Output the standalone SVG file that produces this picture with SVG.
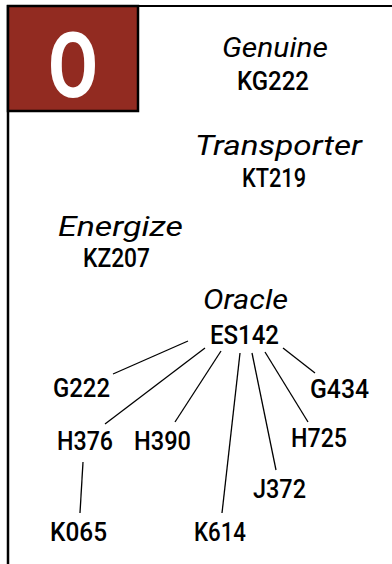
<svg xmlns="http://www.w3.org/2000/svg" width="392" height="564" viewBox="0 0 392 564">
<style>
.lbl{font-family:Roboto,"Liberation Sans",sans-serif;font-style:italic;font-size:28px;fill:#000;text-anchor:middle}
.code{font-family:Roboto,"Liberation Sans",sans-serif;font-weight:500;font-size:25px;fill:#000;text-anchor:middle}
.edge{stroke:#000;stroke-width:1.3;fill:none}
</style>
<rect x="0" y="0" width="392" height="564" fill="#fff"/>
<g id="frame">
<line x1="8" y1="6" x2="392" y2="6" stroke="#000" stroke-width="2"/>
<line x1="8" y1="5" x2="8" y2="564" stroke="#000" stroke-width="2.5"/>
<rect x="8" y="6" width="130" height="105" fill="#922B21" stroke="#000" stroke-width="2.5"/>
<text x="73" y="97" font-family="Roboto,'Liberation Sans',sans-serif" font-weight="700" font-size="90" fill="#fff" text-anchor="middle" textLength="50" lengthAdjust="spacingAndGlyphs">O</text>
</g>
<g id="connectors">
<line class="edge" x1="188" y1="341" x2="113" y2="374"/>
<line class="edge" x1="205" y1="348" x2="105" y2="424"/>
<line class="edge" x1="221" y1="351" x2="175" y2="422"/>
<line class="edge" x1="240" y1="353" x2="222" y2="513"/>
<line class="edge" x1="252" y1="353" x2="276" y2="470"/>
<line class="edge" x1="265" y1="352" x2="308" y2="422"/>
<line class="edge" x1="283" y1="348" x2="315" y2="373"/>
<line class="edge" x1="83" y1="462" x2="80" y2="513"/>
</g>
<g id="genuine">
<text class="lbl" x="275" y="57" textLength="106" lengthAdjust="spacingAndGlyphs">Genuine</text>
<text class="code" x="273" y="90" textLength="72" lengthAdjust="spacingAndGlyphs">KG222</text>
</g>
<g id="transporter">
<text class="lbl" x="278.5" y="155" textLength="167" lengthAdjust="spacingAndGlyphs">Transporter</text>
<text class="code" x="274" y="187" textLength="64" lengthAdjust="spacingAndGlyphs">KT219</text>
</g>
<g id="energize">
<text class="lbl" x="120.5" y="236" textLength="125" lengthAdjust="spacingAndGlyphs">Energize</text>
<text class="code" x="116.5" y="266.5" textLength="67" lengthAdjust="spacingAndGlyphs">KZ207</text>
</g>
<g id="oracle">
<text class="lbl" x="245.5" y="309" textLength="85" lengthAdjust="spacingAndGlyphs">Oracle</text>
<text class="code" x="244.5" y="344" textLength="69" lengthAdjust="spacingAndGlyphs">ES142</text>
</g>
<g id="G222"><text class="code" x="81.5" y="397" textLength="57" lengthAdjust="spacingAndGlyphs">G222</text></g>
<g id="G434"><text class="code" x="339.5" y="398" textLength="59" lengthAdjust="spacingAndGlyphs">G434</text></g>
<g id="H376"><text class="code" x="85" y="450" textLength="56" lengthAdjust="spacingAndGlyphs">H376</text></g>
<g id="H390"><text class="code" x="162.5" y="450" textLength="57" lengthAdjust="spacingAndGlyphs">H390</text></g>
<g id="H725"><text class="code" x="319" y="447" textLength="56" lengthAdjust="spacingAndGlyphs">H725</text></g>
<g id="J372"><text class="code" x="279.5" y="498" textLength="53" lengthAdjust="spacingAndGlyphs">J372</text></g>
<g id="K065"><text class="code" x="78.5" y="541" textLength="57" lengthAdjust="spacingAndGlyphs">K065</text></g>
<g id="K614"><text class="code" x="220" y="541" textLength="52" lengthAdjust="spacingAndGlyphs">K614</text></g>
</svg>
